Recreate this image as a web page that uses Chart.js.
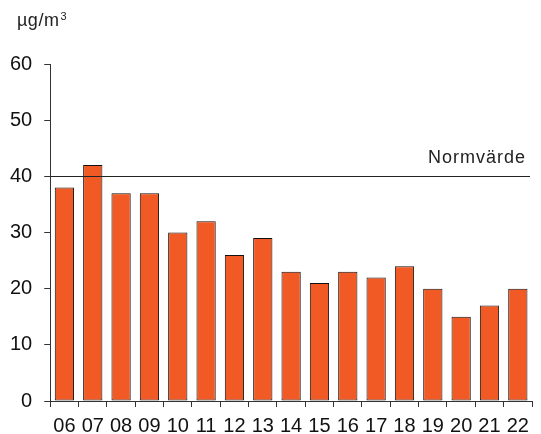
<!DOCTYPE html>
<html>
<head>
<meta charset="utf-8">
<script src="https://cdn.jsdelivr.net/npm/chart.js@4"></script>
<style>
  html, body { margin:0; padding:0; background:#fff; }
  #wrap { position:relative; width:541px; height:434px; }
</style>
</head>
<body>
<div id="wrap"><canvas id="chartNo2"></canvas></div>
<script>
const years = ['06','07','08','09','10','11','12','13','14','15','16','17','18','19','20','21','22'];
const values = [38, 42, 37, 37, 30, 32, 26, 29, 23, 21, 23, 22, 24, 20, 15, 17, 20];
const normValue = 40;
const normLabel = 'Normvärde';
const unitBase = 'µg/m';
const unitSup = '3';

const FONT = '"Liberation Sans", Arial, sans-serif';

const normLinePlugin = {
  id: 'normLine',
  afterDatasetsDraw(chart){
    const {ctx, chartArea, scales} = chart;
    const y = Math.round(scales.y.getPixelForValue(normValue));
    ctx.save();
    ctx.strokeStyle = '#222';
    ctx.lineWidth = 1;
    ctx.beginPath();
    ctx.moveTo(chartArea.left, y + 0.5);
    ctx.lineTo(chartArea.right - 2, y + 0.5);
    ctx.stroke();
    ctx.fillStyle = '#222';
    ctx.font = '18px ' + FONT;
    ctx.letterSpacing = '1px';
    ctx.textAlign = 'right';
    ctx.textBaseline = 'alphabetic';
    ctx.fillText(normLabel, chartArea.right - 6, y - 13);
    // unit label at top left
    ctx.letterSpacing = '0.5px';
    ctx.textAlign = 'left';
    ctx.font = '18px ' + FONT;
    ctx.fillText(unitBase, 17, 26);
    const w = ctx.measureText(unitBase).width;
    ctx.letterSpacing = '0px';
    ctx.font = '11px ' + FONT;
    ctx.fillText(unitSup, 17 + w + 1, 20);
    ctx.restore();
  }
};

new Chart(document.getElementById('chartNo2'), {
  type:'bar',
  data:{ labels:years, datasets:[{
    data:values,
    backgroundColor:'#F15A24',
    borderColor:'#111',
    borderWidth:1,
    borderSkipped:false,
    categoryPercentage:1,
    barPercentage:0.68
  }]},
  options:{
    responsive:true,
    maintainAspectRatio:false,
    animation:false,
    layout:{ padding:{ top:64, right:9, left:-2, bottom:-11 } },
    plugins:{ legend:{ display:false }, tooltip:{ enabled:false } },
    scales:{
      x:{
        grid:{ display:true, offset:true, drawOnChartArea:false, tickLength:6, color:'#333' },
        border:{ color:'#333' },
        ticks:{ color:'#111', padding:10, font:{ size:20, family:FONT, lineHeight:0.9 }, maxRotation:0, autoSkip:false }
      },
      y:{
        min:0, max:60,
        grid:{ display:true, drawOnChartArea:false, tickLength:6, color:'#333' },
        border:{ color:'#333' },
        ticks:{ stepSize:10, color:'#111', padding:12, font:{ size:20, family:FONT } }
      }
    }
  },
  plugins:[normLinePlugin]
});
</script>
</body>
</html>
